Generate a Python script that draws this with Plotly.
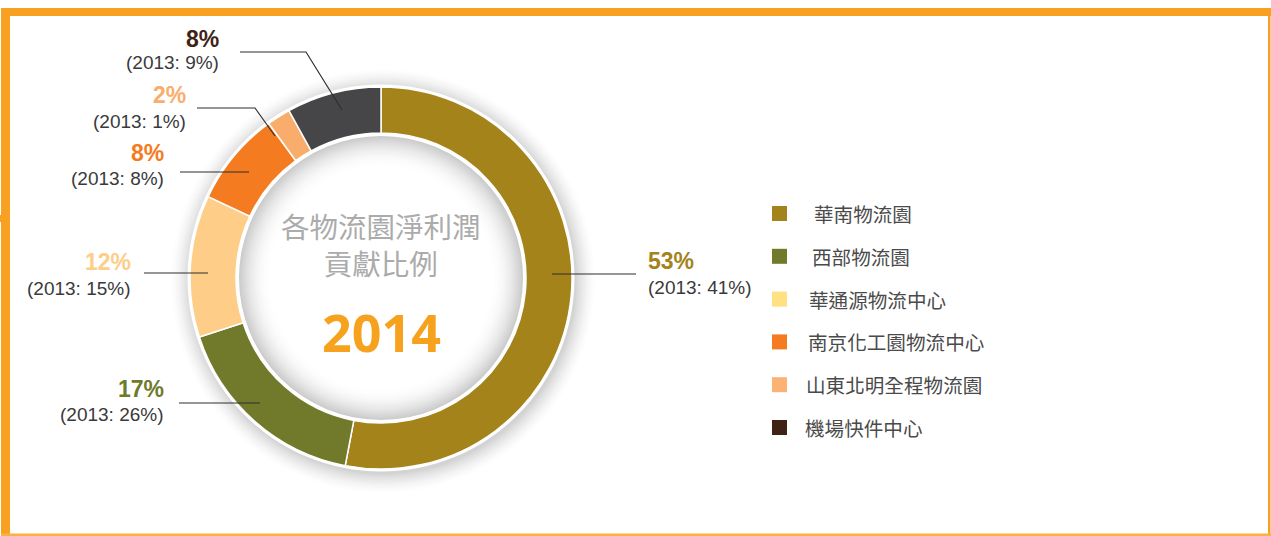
import plotly.graph_objects as go

# ---------------- data ----------------
categories = ["華南物流園", "西部物流園", "華通源物流中心", "南京化工園物流中心", "山東北明全程物流園", "機場快件中心"]
share_2014 = [53, 17, 12, 8, 2, 8]
share_2013 = [41, 26, 15, 8, 1, 9]
slice_colors = ["#A4831B", "#707A2A", "#FECD88", "#F47B20", "#F8AD6D", "#464648"]
legend_colors = ["#A4831B", "#707A2A", "#FFE082", "#F47B20", "#FBB273", "#3F2314"]
label_colors = ["#A4831B", "#707A2A", "#FECD88", "#F47B20", "#F8AD6D", "#3F2314"]
center_title = ["各物流園淨利潤", "貢獻比例"]
center_year = "2014"

# ---------------- layout geometry (pixels) ----------------
W, H = 1271, 536
CX, CY, R_OUT, R_IN = 381, 278, 191, 145
ORANGE = "#F8A01F"

def px(x):
    return x / W

def py(y):
    return 1 - y / H

# label anchors: (text x edge, y of percent, y of sub, anchor side)
label_pos = [
    (646, 261, 287, "left"),
    (166, 389, 414, "right"),
    (133, 262, 288, "right"),
    (166, 153, 179, "right"),
    (188, 95, 121, "right"),
    (221, 39, 63, "right"),
]
# leader line polylines (pixel points)
leader_pts = [
    [(636, 274), (552, 274)],
    [(179, 403), (260, 403)],
    [(144, 273), (208, 273)],
    [(180, 172), (249, 172)],
    [(197, 108), (255, 108), (275, 136)],
    [(240, 52), (306, 52), (342, 110)],
]
legend_x_sq = 772
legend_text_x = [812, 810, 807, 806, 804, 803]
legend_y0 = 213.5
legend_dy = 42.8

fig = go.Figure()
fig.add_trace(go.Pie(
    labels=categories,
    values=share_2014,
    sort=False,
    direction="clockwise",
    rotation=0,
    hole=R_IN / R_OUT,
    marker=dict(colors=slice_colors, line=dict(color="white", width=1.5)),
    textinfo="none",
    hoverinfo="label+percent",
    showlegend=False,
    domain=dict(x=[px(CX - R_OUT), px(CX + R_OUT)], y=[py(CY + R_OUT), py(CY - R_OUT)]),
))

shapes = []

def circle(cx, cy, r, color, layer="below"):
    return dict(type="circle", xref="paper", yref="paper",
                x0=px(cx - r), x1=px(cx + r), y0=py(cy + r), y1=py(cy - r),
                fillcolor=color, line=dict(width=0), layer=layer)

# outer soft shadow
n = 22
for i in range(n):
    r = 214 - i * (214 - 193) / (n - 1)
    t = i / (n - 1)
    g = int(round(255 - 44 * t ** 1.6))
    shapes.append(circle(CX + 2, CY + 3, r, f"rgb({g},{g},{g})"))
shapes.append(circle(CX, CY, 193.5, "white"))
# inner embossed disc
n2 = 30
for i in range(n2):
    r = 142 - i * (142 - 110) / (n2 - 1)
    t = i / (n2 - 1)
    g = int(round(255 - 52 * (1 - t) ** 2))
    shapes.append(circle(CX, CY, r, f"rgb({g},{g},{g})"))

# frame
def rect(x0, y0, x1, y1, color):
    return dict(type="rect", xref="paper", yref="paper",
                x0=px(x0), x1=px(x1), y0=py(y1), y1=py(y0),
                fillcolor=color, line=dict(width=0), layer="above")

shapes.append(rect(2, 8, W, 16, ORANGE))
shapes.append(rect(1, 8, 10, H, ORANGE))
shapes.append(rect(0, 215, 2, 222, ORANGE))
shapes.append(rect(1268, 8, 1270.5, H, ORANGE))
shapes.append(rect(1, 533.5, W, 536, "#F9B143"))

# leader lines
for pts in leader_pts:
    path = "M " + " L ".join(f"{px(x):.6f},{py(y):.6f}" for x, y in pts)
    shapes.append(dict(type="path", xref="paper", yref="paper", path=path,
                       line=dict(color="#2f2f2f", width=1.2), layer="above"))

# legend squares
for i, c in enumerate(legend_colors):
    yc = legend_y0 + i * legend_dy
    shapes.append(rect(legend_x_sq, yc - 7.5, legend_x_sq + 15, yc + 7.5, c))

annotations = []
LAB_FONT = "Liberation Sans, Arial, sans-serif"
for i in range(len(categories)):
    x, y1, y2, side = label_pos[i]
    annotations.append(dict(xref="paper", yref="paper", x=px(x), y=py(y1),
                            xanchor=side, yanchor="middle", showarrow=False,
                            text=f"<b>{share_2014[i]}%</b>",
                            font=dict(family=LAB_FONT, size=23, color=label_colors[i])))
    annotations.append(dict(xref="paper", yref="paper", x=px(x), y=py(y2),
                            xanchor=side, yanchor="middle", showarrow=False,
                            text=f"(2013: {share_2013[i]}%)",
                            font=dict(family=LAB_FONT, size=19, color="#3a3a3a")))
    yc = legend_y0 + i * legend_dy
    annotations.append(dict(xref="paper", yref="paper", x=px(legend_text_x[i]), y=py(yc),
                            xanchor="left", yanchor="middle", showarrow=False,
                            text=categories[i],
                            font=dict(family="Noto Sans CJK TC, sans-serif", size=19.6, color="#4a4a4a")))

CJK = "Noto Sans CJK TC, Noto Sans CJK SC, sans-serif"
annotations.append(dict(xref="paper", yref="paper", x=px(CX), y=py(244),
                        xanchor="center", yanchor="middle", showarrow=False,
                        text="<br>".join(center_title),
                        font=dict(family=CJK, size=28.5, color="#ABABAB")))
annotations.append(dict(xref="paper", yref="paper", x=px(CX), y=py(331),
                        xanchor="center", yanchor="middle", showarrow=False,
                        text=f"<b>{center_year}</b>",
                        font=dict(family="Open Sans, sans-serif", size=52, color="#F7A21E")))

fig.update_layout(
    width=W, height=H,
    margin=dict(l=0, r=0, t=0, b=0),
    paper_bgcolor="white", plot_bgcolor="white",
    shapes=shapes, annotations=annotations,
    showlegend=False,
)

fig.write_html("out.html", config={"displayModeBar": False},
               post_script="document.body.style.margin='0';document.body.style.padding='0';")
